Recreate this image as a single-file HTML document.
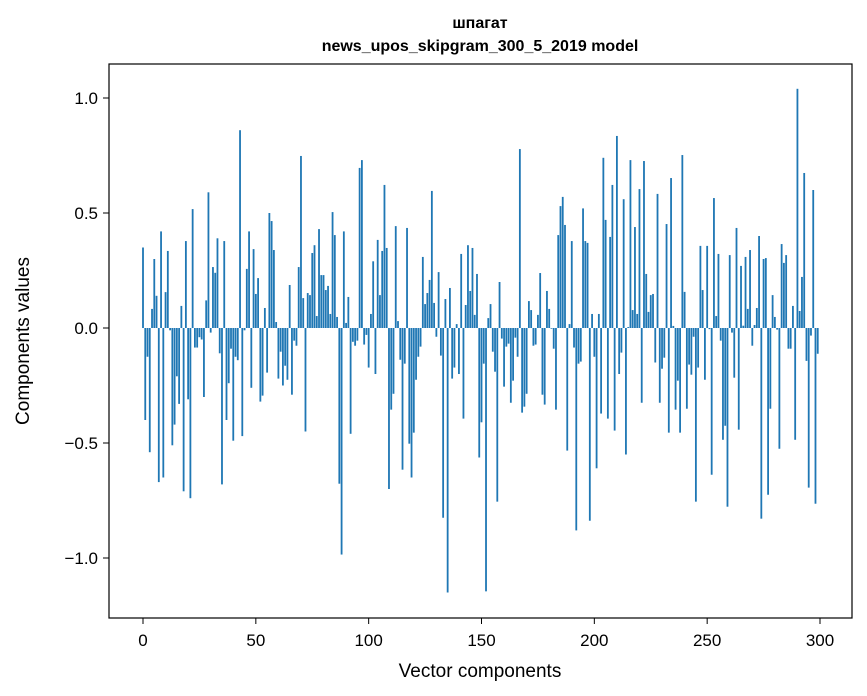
<!DOCTYPE html>
<html><head><meta charset="utf-8"><style>
body{margin:0;background:#fff;}
svg{display:block;font-family:"Liberation Sans","DejaVu Sans",sans-serif;}
</style></head><body>
<svg id="chart" width="867" height="696" viewBox="0 0 867 696">
<rect width="867" height="696" fill="#fff"/>
<text x="480" y="28" text-anchor="middle" font-size="16" font-weight="bold">шпагат</text>
<text x="480" y="51" text-anchor="middle" font-size="16" font-weight="bold">news_upos_skipgram_300_5_2019 model</text>
<g id="bars"></g>
<g id="axes"></g>
<rect x="109" y="64" width="743" height="554" fill="none" stroke="#000" stroke-width="1.2"/>
<text x="480" y="677" text-anchor="middle" font-size="19">Vector components</text>
<text transform="translate(29,341) rotate(-90)" text-anchor="middle" font-size="19">Components values</text>
</svg>
<script>
const values = [
0.35,-0.40,-0.125,-0.54,0.083,0.30,0.14,-0.67,0.42,-0.65,
0.156,0.335,-0.01,-0.51,-0.42,-0.21,-0.33,0.096,-0.71,0.378,
-0.31,-0.74,0.517,-0.085,-0.085,-0.04,-0.05,-0.30,0.12,0.59,
-0.02,0.265,0.24,0.39,-0.11,-0.68,0.378,-0.40,-0.24,-0.09,
-0.49,-0.125,-0.14,0.86,-0.47,-0.01,0.257,0.42,-0.26,0.343,
0.148,0.217,-0.32,-0.294,0.087,-0.194,0.50,0.465,0.339,0.026,
-0.22,-0.103,-0.25,-0.164,-0.225,0.187,-0.29,-0.055,-0.077,0.265,
0.748,0.13,-0.45,0.152,0.143,0.326,0.36,0.052,0.43,0.23,
0.23,0.165,0.183,0.061,0.504,0.404,0.048,-0.677,-0.985,0.42,
0.022,0.135,-0.46,-0.06,-0.077,-0.055,0.696,0.73,-0.072,-0.03,
-0.172,0.061,0.29,-0.2,0.383,0.143,0.335,0.622,0.348,-0.70,
-0.355,-0.286,0.443,0.03,-0.138,-0.616,-0.155,0.435,-0.503,-0.65,
-0.455,-0.225,-0.125,-0.081,0.309,0.104,0.152,0.209,0.596,0.109,
-0.038,0.243,-0.12,-0.825,0.126,-1.15,0.174,-0.22,-0.172,0.017,
-0.2,0.322,-0.394,0.1,0.36,0.161,0.348,0.057,0.235,-0.563,
-0.41,-0.155,-1.145,0.043,0.104,-0.103,-0.19,-0.755,0.2,-0.046,
-0.255,-0.081,-0.068,-0.325,-0.229,-0.042,-0.125,0.778,-0.368,-0.342,
-0.286,0.117,0.078,-0.077,-0.072,0.057,0.239,-0.29,-0.333,0.161,
0.083,-0.003,-0.09,-0.355,0.404,0.53,0.57,0.448,-0.533,0.017,
0.378,-0.085,-0.88,-0.155,-0.146,0.52,0.378,0.37,-0.838,0.061,
-0.125,-0.61,0.061,-0.372,0.74,0.47,-0.394,0.396,0.622,-0.446,
0.835,-0.2,-0.107,0.56,-0.55,0.004,0.73,0.078,0.439,0.061,
0.604,-0.325,0.726,0.235,0.07,0.143,0.148,-0.15,0.583,-0.325,
-0.177,-0.129,0.452,-0.455,0.652,0.009,-0.355,-0.229,-0.455,0.752,
0.157,-0.351,-0.159,-0.203,-0.038,-0.755,-0.172,0.357,0.165,-0.225,
0.357,-0.005,-0.638,0.565,0.052,0.322,-0.055,-0.486,-0.425,-0.777,
0.317,-0.02,-0.216,0.435,-0.442,0.27,0.01,0.309,0.083,0.339,
-0.077,0.013,0.087,0.4,-0.829,0.3,0.304,-0.725,-0.351,0.143,
0.048,-0.007,-0.525,0.365,0.283,0.317,-0.09,-0.09,0.096,-0.486,
1.04,0.074,0.222,0.674,-0.143,-0.694,-0.033,0.6,-0.764,-0.112
];
const xTicks = [0,50,100,150,200,250,300];
const yTicks = [-1.0,-0.5,0.0,0.5,1.0];
const yTickLabels = ["\u22121.0","\u22120.5","0.0","0.5","1.0"];

const NS="http://www.w3.org/2000/svg";
function xs(v){return 143 + v*(677/300);}
function ys(v){return 328 - v*230;}
const bw = 0.8*(677/300);
const bars=document.getElementById('bars');
values.forEach((v,i)=>{
  const r=document.createElementNS(NS,'rect');
  
  
  const y0=ys(Math.max(v,0)), y1=ys(Math.min(v,0));
  r.setAttribute('x',xs(i)-bw/2);
  r.setAttribute('y',y0);
  r.setAttribute('width',bw);
  r.setAttribute('height',Math.max(y1-y0,0.3));
  r.setAttribute('fill','#1f77b4');
  bars.appendChild(r);
});
const axes=document.getElementById('axes');
xTicks.forEach(t=>{
  const l=document.createElementNS(NS,'line');
  
  
  l.setAttribute('x1',xs(t));l.setAttribute('x2',xs(t));
  l.setAttribute('y1',618);l.setAttribute('y2',624);
  l.setAttribute('stroke','#000');
  axes.appendChild(l);
  const tx=document.createElementNS(NS,'text');
  
  
  tx.setAttribute('x',xs(t));tx.setAttribute('y',646);
  tx.setAttribute('text-anchor','middle');tx.setAttribute('font-size','17');
  tx.textContent=String(t);
  axes.appendChild(tx);
});
yTicks.forEach((t,k)=>{
  const l=document.createElementNS(NS,'line');
  
  
  l.setAttribute('x1',103);l.setAttribute('x2',109);
  l.setAttribute('y1',ys(t));l.setAttribute('y2',ys(t));
  l.setAttribute('stroke','#000');
  axes.appendChild(l);
  const tx=document.createElementNS(NS,'text');
  
  
  tx.setAttribute('x',98);tx.setAttribute('y',ys(t)+6);
  tx.setAttribute('text-anchor','end');tx.setAttribute('font-size','17');
  tx.textContent=yTickLabels[k];
  axes.appendChild(tx);
});
</script>
</body></html>
